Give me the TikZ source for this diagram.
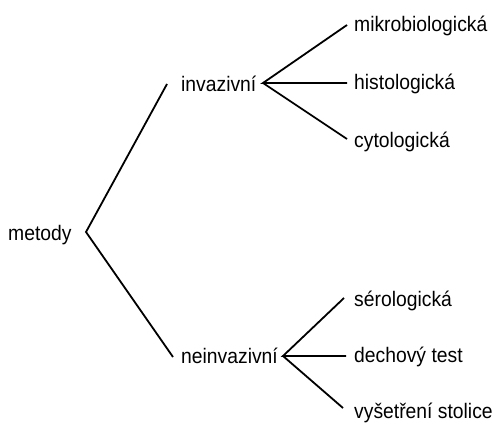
\documentclass[tikz,border=0pt]{standalone}
\usepackage{fontspec}
\setmainfont[FakeStretch=0.92]{Liberation Sans}
\begin{document}
\begin{tikzpicture}[x=1pt,y=-1pt,
  lab/.style={anchor=base west, inner sep=0pt, font=\fontsize{21}{25}\selectfont},
  conn/.style={line width=1.8pt, line cap=butt, line join=miter}]
\useasboundingbox (0,0) rectangle (496,423);
\node[lab] (metody) at (8,240) {metody};
\node[lab] (inv) at (181,91) {invazivní};
\node[lab] (neinv) at (181,363) {neinvazivní};
\node[lab] (mikro) at (354,31) {mikrobiologická};
\node[lab] (histo) at (354,89) {histologická};
\node[lab] (cyto) at (354,147) {cytologická};
\node[lab] (sero) at (354,306) {sérologická};
\node[lab] (dech) at (354,362) {dechový test};
\node[lab] (vys) at (354,418) {vyšetření stolice};
\coordinate (vm) at (86,232);
\coordinate (vi) at (263,83);
\coordinate (vn) at (283,356);
\draw[conn] ([xshift=-14pt,yshift=7pt]inv.base west) -- (vm) -- ([xshift=-8pt,yshift=6pt]neinv.base west);
\draw[conn] ([xshift=-7pt,yshift=6pt]mikro.base west) -- (vi) -- ([xshift=-7pt,yshift=6pt]histo.base west);
\draw[conn] (vi) -- ([xshift=-7pt,yshift=8pt]cyto.base west);
\draw[conn] ([xshift=-10pt,yshift=8pt]sero.base west) -- (vn) -- ([xshift=-8pt,yshift=6pt]dech.base west);
\draw[conn] (vn) -- ([xshift=-11pt,yshift=10pt]vys.base west);
\end{tikzpicture}
\end{document}
